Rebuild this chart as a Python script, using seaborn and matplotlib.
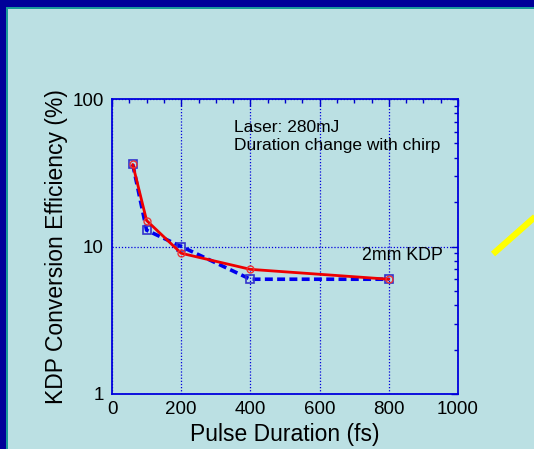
import numpy as np
import pandas as pd
import matplotlib
matplotlib.use("Agg")
import matplotlib.pyplot as plt
import seaborn as sns
from matplotlib.patches import Rectangle
from matplotlib.lines import Line2D
from matplotlib.ticker import LogLocator, FixedLocator, NullFormatter

duration = [60, 100, 200, 400, 800]
eff_red = [36, 15, 9.0, 7.0, 6.0]
eff_blue = [36, 12.9, 10.0, 6.0, 6.0]
xticks = [0, 200, 400, 600, 800, 1000]
yticks = [1, 10, 100]

sns.set_theme(style="white")
plt.rcParams['font.family'] = ['Liberation Sans', 'DejaVu Sans']

W, H = 534, 449
fig = plt.figure(figsize=(W / 100, H / 100), dpi=100)
fig.patch.set_facecolor('#BBE0E3')
fig.patch.set_linewidth(0)
# dark frame at top and left, with a teal inner edge
fig.add_artist(Rectangle((-0.05, 1 - 7 / H), 1.1, 0.1, transform=fig.transFigure,
                         facecolor='#000099', edgecolor='none', lw=0, zorder=0))
fig.add_artist(Rectangle((-0.05, -0.05), 0.05 + 6 / W, 1.1, transform=fig.transFigure,
                         facecolor='#000099', edgecolor='none', lw=0, zorder=0))
fig.add_artist(Rectangle((6 / W, 1 - 9 / H), 1.0, 2 / H, transform=fig.transFigure,
                         facecolor='#1a9a9a', edgecolor='none', lw=0, zorder=0))
fig.add_artist(Rectangle((6 / W, -0.05), 2 / W, 1.05 - 9 / H, transform=fig.transFigure,
                         facecolor='#1a9a9a', edgecolor='none', lw=0, zorder=0))

left, right, top, bottom = 112, 458, 99, 394
ax = fig.add_axes([left / W, 1 - bottom / H, (right - left) / W, (bottom - top) / H])
ax.set_facecolor('none')

df_red = pd.DataFrame({'x': duration, 'y': eff_red})
df_blue = pd.DataFrame({'x': duration, 'y': eff_blue})

sns.lineplot(data=df_blue, x='x', y='y', ax=ax, color='#0000EE', lw=2.6,
             linestyle=(0, (2.2, 1.2)), marker='s', markersize=6,
             markerfacecolor='none', markeredgecolor='#3333CC', markeredgewidth=1.2,
             zorder=3)
sns.lineplot(data=df_red, x='x', y='y', ax=ax, color='#EE0000', lw=2.0,
             marker='o', markersize=5, markerfacecolor='none',
             markeredgecolor='#EE3333', markeredgewidth=1.0, zorder=4)

ax.set_yscale('log')
ax.set_xlim(0, 1000)
ax.set_ylim(1, 100)

ax.xaxis.set_major_locator(FixedLocator(xticks))
ax.xaxis.set_minor_locator(FixedLocator(np.arange(0, 1001, 50)))
ax.yaxis.set_major_locator(FixedLocator(yticks))
ax.yaxis.set_minor_locator(LogLocator(base=10, subs=np.arange(2, 10)))
ax.yaxis.set_minor_formatter(NullFormatter())
ax.set_xticklabels([str(t) for t in xticks])
ax.set_yticklabels([str(t) for t in yticks])

ax.tick_params(axis='both', which='both', direction='in', color='#0000CC',
               top=True, right=True, labelsize=13.5, labelcolor='black')
ax.tick_params(which='major', length=5, width=1)
ax.tick_params(which='minor', length=3, width=1)
ax.tick_params(axis='x', pad=5)
ax.tick_params(axis='y', pad=6)

for s in ax.spines.values():
    s.set_color('#0000DD')
    s.set_linewidth(1.3)
    s.set_visible(True)

ax.grid(True, which='major', color='#0000DD', linestyle=(0, (1, 1.5)), lw=0.9)

ax.set_xlabel('Pulse Duration (fs)', fontsize=16.5, color='black', labelpad=4)
ax.set_ylabel('KDP Conversion Efficiency (%)', fontsize=16.5, color='black', labelpad=3)

ax.text(0.353, 0.93, 'Laser: 280mJ\nDuration change with chirp', transform=ax.transAxes,
        fontsize=12.5, color='black', va='top', ha='left', linespacing=1.25)
ax.text(0.956, 0.47, '2mm KDP', transform=ax.transAxes, fontsize=12.8,
        color='black', va='center', ha='right')

fig.add_artist(Line2D([493 / W, 545 / W], [1 - 254 / H, 1 - 208 / H],
                      transform=fig.transFigure, color='#FFFF00', lw=4.5,
                      solid_capstyle='butt'))

fig.savefig('out.png', dpi=100, facecolor=fig.get_facecolor(), edgecolor='none')
